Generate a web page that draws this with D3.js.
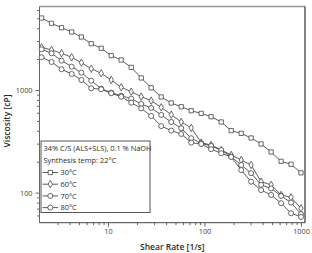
<!DOCTYPE html>
<html>
<head>
<meta charset="utf-8">
<script src="https://cdn.jsdelivr.net/npm/d3@7"></script>
<style>
body { margin: 0; background: #fff; }
text { font-family: "Open Sans", sans-serif; fill: #2a2a2a; }
</style>
</head>
<body>
<svg id="svgVisc"></svg>
<script>
/////////////////////////////////////////////////////////////////////////////////////////

// shear rate [1/s], same for every series
var SHEAR_RATE = [2.05, 2.6, 3.3, 4.2, 5.3, 6.7, 8.5, 10.8, 13.7, 17.4, 22.1, 28, 35.6, 45.2,
    57.4, 72.8, 92.4, 117, 149, 189, 240, 304, 386, 490, 622, 789, 1000];

// viscosity [cP] per synthesis temperature
var VISC_30 = [5020, 4460, 4040, 3670, 3280, 2820, 2550, 2160, 1960, 1660, 1310, 1050, 855, 747,
    687, 628, 592, 549, 488, 402, 378, 341, 298, 249, 202, 189, 156];
var VISC_60 = [2605, 2452, 2277, 2082, 1844, 1612, 1454, 1251, 1062, 963, 861, 787, 678, 575,
    488, 427, 307, 291, 260, 233, 208, 186, 128, 119, 95, 90, 70.5];
var VISC_70 = [2490, 2277, 1929, 1687, 1474, 1232, 1030, 941, 880, 823, 731, 668, 571, 488,
    424, 339, 303, 285, 260, 224, 186, 155, 119, 110, 93, 80, 62];
var VISC_80 = [2082, 1873, 1591, 1431, 1251, 1039, 1016, 929, 861, 752, 663, 558, 445, 402,
    373, 307, 298, 265, 242, 223, 166, 128, 106, 95, 79, 63, 58];

var SERIES_NAMES = ["30°C", "60°C", "70°C", "80°C"];
var LEGEND_TITLE = ["34% C/S (ALS+SLS), 0.1 % NaOH", "Synthesis temp: 22°C"];

var X_TICKS = [10, 100, 1000];
var X_MINOR = [3, 4, 5, 6, 7, 8, 9, 20, 30, 40, 50, 60, 70, 80, 90, 200, 300, 400, 500, 600, 700, 800, 900];
var Y_TICKS = [100, 1000];
var Y_MINOR = [60, 70, 80, 90, 200, 300, 400, 500, 600, 700, 800, 900, 2000, 3000, 4000, 5000, 6000];

// SETUP ////////////////////////////////////////////////////////////////////////////////

var WIDTH = 312, HEIGHT = 253;
var PLOT_LEFT = 39.5, PLOT_RIGHT = 305, PLOT_TOP = 6.5, PLOT_BOTTOM = 222.7;

var svg = d3.select('#svgVisc')
    .attr('width', WIDTH)
    .attr('height', HEIGHT);

var x = d3.scaleLog().domain([1.95, 1100]).range([PLOT_LEFT, PLOT_RIGHT]);
var y = d3.scaleLog().domain([51, 6500]).range([PLOT_BOTTOM, PLOT_TOP]);

var symbols = [d3.symbolSquare, d3.symbolDiamond, d3.symbolCircle, d3.symbolCircle];
var symbolSizes = [18, 16, 20, 20];

var series = [VISC_30, VISC_60, VISC_70, VISC_80].map(function (vals, k) {
    return {
        name: SERIES_NAMES[k],
        points: vals.map(function (v, i) { return [SHEAR_RATE[i], v]; })
    };
});

/////////////////////////////////////////////////////////////////////////////////////////

function drawAxes() {
    // X AXIS
    var xAxis = svg.append("g")
        .attr("transform", "translate(0," + PLOT_BOTTOM + ")")
        .call(d3.axisBottom(x).tickValues(X_TICKS).tickFormat(d3.format("d")).tickSize(4).tickPadding(2).tickSizeOuter(0));
    xAxis.select(".domain").remove();
    xAxis.selectAll("text").style("font-size", "7.3px").style("fill", "#444");

    var xMinor = svg.append("g")
        .attr("transform", "translate(0," + PLOT_BOTTOM + ")")
        .call(d3.axisBottom(x).tickValues(X_MINOR).tickFormat("").tickSize(2.5).tickSizeOuter(0));
    xMinor.select(".domain").remove();

    // Y AXIS
    var yAxis = svg.append("g")
        .attr("transform", "translate(" + PLOT_LEFT + ",0)")
        .call(d3.axisLeft(y).tickValues(Y_TICKS).tickFormat(d3.format("d")).tickSize(4).tickPadding(3).tickSizeOuter(0));
    yAxis.select(".domain").remove();
    yAxis.selectAll("text").style("font-size", "7.3px").style("fill", "#444");

    var yMinor = svg.append("g")
        .attr("transform", "translate(" + PLOT_LEFT + ",0)")
        .call(d3.axisLeft(y).tickValues(Y_MINOR).tickFormat("").tickSize(2.5).tickSizeOuter(0));
    yMinor.select(".domain").remove();

    svg.selectAll(".tick line").attr("stroke", "#444").attr("stroke-width", 0.8);

    // frame
    svg.append("line").attr("x1", PLOT_LEFT).attr("x2", PLOT_RIGHT).attr("y1", PLOT_TOP).attr("y2", PLOT_TOP)
        .attr("stroke", "#999").attr("stroke-width", 1.6);
    svg.append("line").attr("x1", PLOT_RIGHT).attr("x2", PLOT_RIGHT).attr("y1", PLOT_TOP).attr("y2", PLOT_BOTTOM)
        .attr("stroke", "#333").attr("stroke-width", 1.2);
    svg.append("line").attr("x1", PLOT_LEFT).attr("x2", PLOT_LEFT).attr("y1", PLOT_TOP).attr("y2", PLOT_BOTTOM)
        .attr("stroke", "#666").attr("stroke-width", 1);
    svg.append("line").attr("x1", PLOT_LEFT).attr("x2", PLOT_RIGHT).attr("y1", PLOT_BOTTOM).attr("y2", PLOT_BOTTOM)
        .attr("stroke", "#444").attr("stroke-width", 1);

    // titles
    svg.append("text")
        .attr("x", (PLOT_LEFT + PLOT_RIGHT) / 2)
        .attr("y", 250)
        .style("text-anchor", "middle")
        .style("font-size", "8.5px")
        .style("font-weight", "600")
        .text("Shear Rate [1/s]");

    svg.append("text")
        .attr("transform", "translate(9.5," + 121 + ") rotate(-90)")
        .style("text-anchor", "middle")
        .style("font-size", "8.5px")
        .style("font-weight", "600")
        .text("Viscosity [cP]");
}

function drawSeries() {
    var line = d3.line()
        .x(function (d) { return x(d[0]); })
        .y(function (d) { return y(d[1]); });

    var g = svg.append("g").selectAll("g")
        .data(series)
        .enter().append("g");

    g.append("path")
        .attr("d", function (d) { return line(d.points); })
        .attr("fill", "none")
        .attr("stroke", "#333")
        .attr("stroke-width", 0.8);

    g.each(function (s, k) {
        d3.select(this).selectAll("path.mark")
            .data(s.points)
            .enter().append("path")
            .attr("class", "mark")
            .attr("d", d3.symbol().type(symbols[k]).size(symbolSizes[k]))
            .attr("transform", function (d) { return "translate(" + x(d[0]) + "," + y(d[1]) + ")"; })
            .attr("fill", "#fff")
            .attr("stroke", "#444")
            .attr("stroke-width", 0.8);
    });
}

function drawLegend() {
    var lg = svg.append("g");

    lg.append("rect")
        .attr("x", 41)
        .attr("y", 141)
        .attr("width", 109)
        .attr("height", 71.5)
        .attr("fill", "#fff")
        .attr("stroke", "#555")
        .attr("stroke-width", 1);

    lg.selectAll("text.title")
        .data(LEGEND_TITLE)
        .enter().append("text")
        .attr("class", "title")
        .attr("x", 43.5)
        .attr("y", function (d, i) { return 150.5 + i * 12; })
        .style("font-size", "7.4px")
        .text(function (d) { return d; });

    var items = lg.selectAll("g.item")
        .data(SERIES_NAMES)
        .enter().append("g")
        .attr("class", "item")
        .attr("transform", function (d, i) { return "translate(0," + (172.5 + i * 11.7) + ")"; });

    items.append("line")
        .attr("x1", 42.5).attr("x2", 58)
        .attr("stroke", "#333").attr("stroke-width", 0.8);

    items.append("path")
        .attr("d", function (d, i) { return d3.symbol().type(symbols[i]).size(symbolSizes[i])(); })
        .attr("transform", "translate(50.3,0)")
        .attr("fill", "#fff")
        .attr("stroke", "#444")
        .attr("stroke-width", 0.8);

    items.append("text")
        .attr("x", 60.5)
        .attr("y", 2.6)
        .style("font-size", "7.4px")
        .text(function (d) { return d; });
}

drawAxes();
drawSeries();
drawLegend();
</script>
</body>
</html>
